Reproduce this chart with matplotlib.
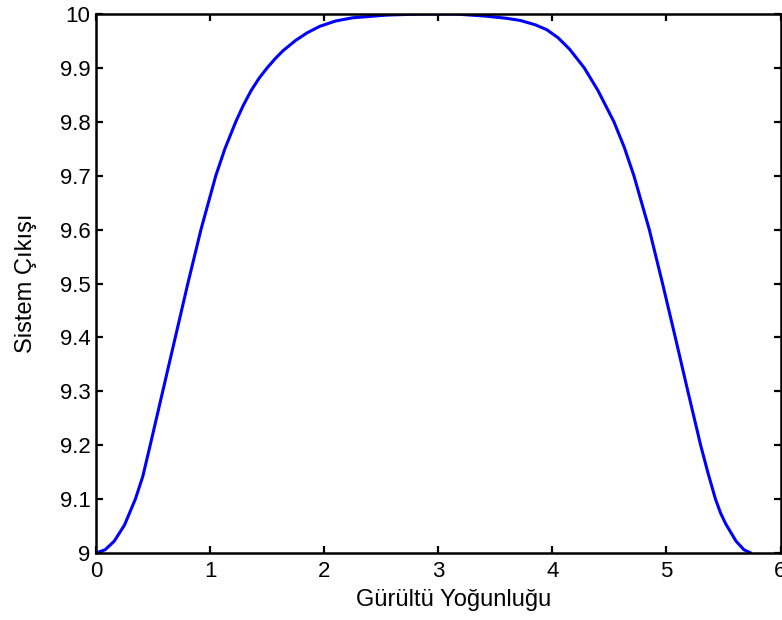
import matplotlib
matplotlib.use("Agg")
import matplotlib.pyplot as plt

# Data
x_vals = [0.0, 0.08, 0.16, 0.25, 0.345, 0.41, 0.475, 0.585, 0.695, 0.805,
          0.92, 1.05, 1.13, 1.225, 1.29, 1.36, 1.43, 1.50, 1.57, 1.64,
          1.75, 1.85, 1.96, 2.1, 2.25, 2.55, 2.85, 3.15, 3.42, 3.6,
          3.72, 3.85, 3.95, 4.05, 4.15, 4.28, 4.4, 4.54, 4.63, 4.715,
          4.85, 4.966, 5.078, 5.188, 5.30, 5.365, 5.43, 5.475, 5.52, 5.61,
          5.68, 5.74]
y_vals = [9.0, 9.006, 9.022, 9.052, 9.1, 9.142, 9.2, 9.3, 9.4, 9.5,
          9.6, 9.7, 9.75, 9.8, 9.83, 9.858, 9.881, 9.9, 9.917, 9.932,
          9.951, 9.965, 9.977, 9.987, 9.993, 9.998, 10.0, 10.0, 9.996, 9.992,
          9.988, 9.980, 9.971, 9.956, 9.935, 9.9, 9.858, 9.8, 9.753, 9.7,
          9.6, 9.5, 9.4, 9.3, 9.2, 9.148, 9.1, 9.074, 9.054, 9.022,
          9.006, 9.0]

x_ticks = [0, 1, 2, 3, 4, 5, 6]
y_ticks = [9, 9.1, 9.2, 9.3, 9.4, 9.5, 9.6, 9.7, 9.8, 9.9, 10]
y_tick_labels = ["9", "9.1", "9.2", "9.3", "9.4", "9.5", "9.6", "9.7", "9.8", "9.9", "10"]
x_label = "Gürültü Yoğunluğu"
y_label = "Sistem Çıkışı"

plt.rcParams['font.family'] = ['Liberation Sans', 'DejaVu Sans']

fig = plt.figure(figsize=(7.82, 6.2), dpi=100)
ax = fig.add_axes([96 / 782, 67 / 620, (780.5 - 96) / 782, (553 - 14) / 620])

ax.plot(x_vals, y_vals, color=(0, 0, 1), linewidth=2.2,
        solid_capstyle='round', solid_joinstyle='round')

ax.set_xlim(0, 6)
ax.set_ylim(9, 10)
ax.set_xticks(x_ticks)
ax.set_xticklabels([str(t) for t in x_ticks])
ax.set_yticks(y_ticks)
ax.set_yticklabels(y_tick_labels)

ax.tick_params(direction='in', length=5, width=1.6, labelsize=16,
               top=True, right=True, colors='black')
ax.tick_params(axis='x', pad=6)
ax.tick_params(axis='y', pad=4)
for s in ax.spines.values():
    s.set_linewidth(1.8)
    s.set_color('black')

ax.set_xlabel(x_label, fontsize=17)
ax.xaxis.set_label_coords(0.522, -0.066, transform=ax.transAxes)
ax.xaxis.label.set_va('top')
ax.set_ylabel(y_label, fontsize=17, labelpad=16)

fig.savefig("out.png", dpi=100)
